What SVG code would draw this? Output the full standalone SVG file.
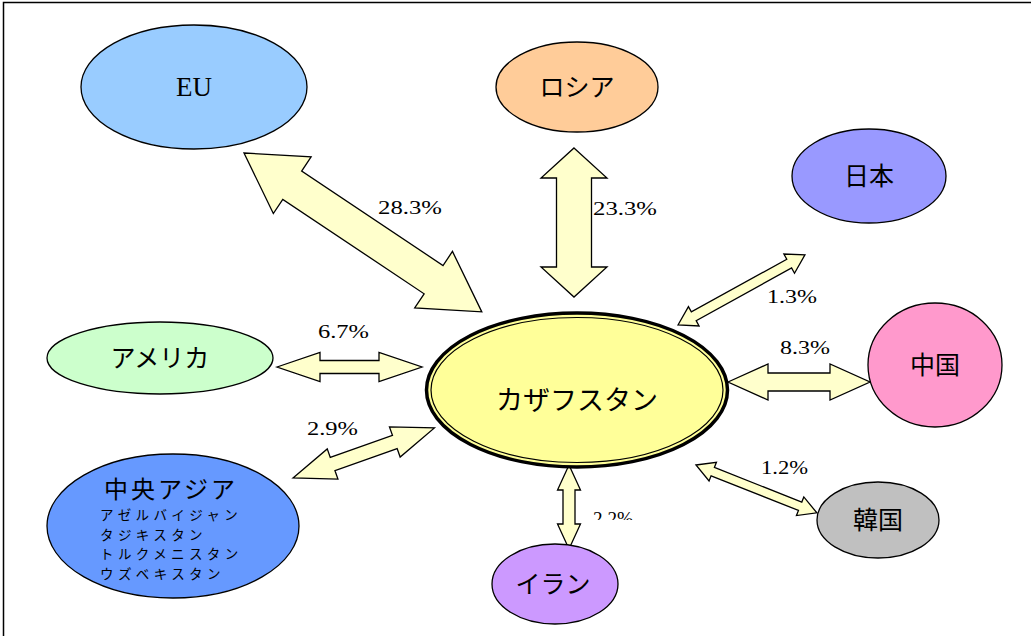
<svg xmlns="http://www.w3.org/2000/svg" width="1031" height="636" viewBox="0 0 1031 636">
  <style>
    .node { stroke: #000; stroke-width: 1.3; }
    .flow { fill: #FFFFCC; stroke: #000; stroke-width: 1.3; stroke-linejoin: miter; }
    .jp { font-family: "Noto Sans CJK JP", "Noto Sans", sans-serif; fill: #000; text-anchor: middle; }
    .pct { font-family: "Liberation Serif", serif; font-size: 18px; fill: #000; }
    .member { font-family: "Noto Sans CJK JP", "Noto Sans", sans-serif; font-size: 13.5px; letter-spacing: 4.4px; }
    .frame { stroke: #000; stroke-width: 1.5; fill: none; }
  </style>
  <defs>
    <clipPath id="cut-iran-label">
      <rect x="580" y="500" width="70" height="20"/>
    </clipPath>
  </defs>

  <rect width="1031" height="636" fill="#fff"/>
  <path class="frame" d="M3.5,636 V2.5 H1031"/>

  <!-- two-way trade flows -->
  <g id="connectors">
    <polygon class="flow" transform="translate(244,153) rotate(33.75)" points="0,0 58,-34 58,-17 228,-17 228,-34 286,0 228,34 228,17 58,17 58,34"/>
    <polygon class="flow" transform="translate(574,148) rotate(90)" points="0,0 30,-33 30,-17.5 119,-17.5 119,-33 149,0 119,33 119,17.5 30,17.5 30,33"/>
    <polygon class="flow" transform="translate(678,325) rotate(-28.9)" points="0,0 18,-11 18,-5 127,-5 127,-11 145,0 127,11 127,5 18,5 18,11"/>
    <polygon class="flow" transform="translate(277,367)" points="0,0 43,-14.5 43,-6.5 102,-6.5 102,-14.5 145,0 102,14.5 102,6.5 43,6.5 43,14.5"/>
    <polygon class="flow" transform="translate(728,382)" points="0,0 40,-18 40,-9 102,-9 102,-18 142,0 102,18 102,9 40,9 40,18"/>
    <polygon class="flow" transform="translate(293,478) rotate(-19.5)" points="0,0 42,-16 42,-7 108,-7 108,-16 150,0 108,16 108,7 42,7 42,16"/>
    <polygon class="flow" transform="translate(569,465) rotate(90)" points="0,0 25,-11.5 25,-6 59,-6 59,-11.5 84,0 59,11.5 59,6 25,6 25,11.5"/>
    <polygon class="flow" transform="translate(696,465) rotate(21.6)" points="0,0 18,-10 18,-4.5 112,-4.5 112,-10 130,0 112,10 112,4.5 18,4.5 18,10"/>

    <text class="pct" x="378" y="214" textLength="64" lengthAdjust="spacingAndGlyphs">28.3%</text>
    <text class="pct" x="593" y="215" textLength="64" lengthAdjust="spacingAndGlyphs">23.3%</text>
    <text class="pct" x="767" y="303" textLength="50" lengthAdjust="spacingAndGlyphs">1.3%</text>
    <text class="pct" x="318" y="338" textLength="51" lengthAdjust="spacingAndGlyphs">6.7%</text>
    <text class="pct" x="780" y="354" textLength="50" lengthAdjust="spacingAndGlyphs">8.3%</text>
    <text class="pct" x="307" y="435" textLength="51" lengthAdjust="spacingAndGlyphs">2.9%</text>
    <text class="pct" x="761" y="474" textLength="47" lengthAdjust="spacingAndGlyphs">1.2%</text>
    <text class="pct" x="593" y="525" textLength="40" lengthAdjust="spacingAndGlyphs" clip-path="url(#cut-iran-label)">2.2%</text>
  </g>

  <g id="eu">
    <ellipse class="node" cx="194" cy="87" rx="113" ry="62" fill="#99CCFF"/>
    <text x="194" y="96" font-family="Liberation Serif, serif" font-size="27" text-anchor="middle">EU</text>
  </g>
  <g id="russia">
    <ellipse class="node" cx="577" cy="87" rx="81" ry="45" fill="#FFCC99"/>
    <text class="jp" x="577" y="96" font-size="25">ロシア</text>
  </g>
  <g id="japan">
    <ellipse class="node" cx="869" cy="176" rx="77" ry="47" fill="#9999FF"/>
    <text class="jp" x="869" y="185" font-size="25">日本</text>
  </g>
  <g id="usa">
    <ellipse class="node" cx="160" cy="358" rx="113" ry="36" fill="#CCFFCC"/>
    <text class="jp" x="160" y="367" font-size="25">アメリカ</text>
  </g>
  <g id="kazakhstan">
    <ellipse cx="577" cy="390" rx="150.5" ry="77" fill="#FFFF99" stroke="#000" stroke-width="3.5"/>
    <ellipse cx="577" cy="390" rx="146" ry="72.5" fill="none" stroke="#000" stroke-width="1.2"/>
    <text class="jp" x="577" y="410" font-size="27">カザフスタン</text>
  </g>
  <g id="china">
    <ellipse class="node" cx="935" cy="365" rx="67" ry="62" fill="#FF99CC"/>
    <text class="jp" x="935" y="374" font-size="25">中国</text>
  </g>
  <g id="central-asia">
    <ellipse class="node" cx="173" cy="526" rx="126" ry="72" fill="#6699FF"/>
    <text x="104" y="498" font-family="Noto Sans CJK JP, Noto Sans, sans-serif" font-size="24" letter-spacing="3">中央アジア</text>
    <text class="member" x="100" y="520">アゼルバイジャン</text>
    <text class="member" x="100" y="539.6">タジキスタン</text>
    <text class="member" x="100" y="559.2">トルクメニスタン</text>
    <text class="member" x="100" y="578.8">ウズベキスタン</text>
  </g>
  <g id="iran">
    <ellipse class="node" cx="555" cy="584" rx="63" ry="40" fill="#CC99FF"/>
    <text class="jp" x="553" y="593" font-size="25">イラン</text>
  </g>
  <g id="korea">
    <ellipse class="node" cx="878" cy="520" rx="61" ry="38" fill="#C0C0C0"/>
    <text class="jp" x="878" y="529" font-size="25">韓国</text>
  </g>
</svg>
